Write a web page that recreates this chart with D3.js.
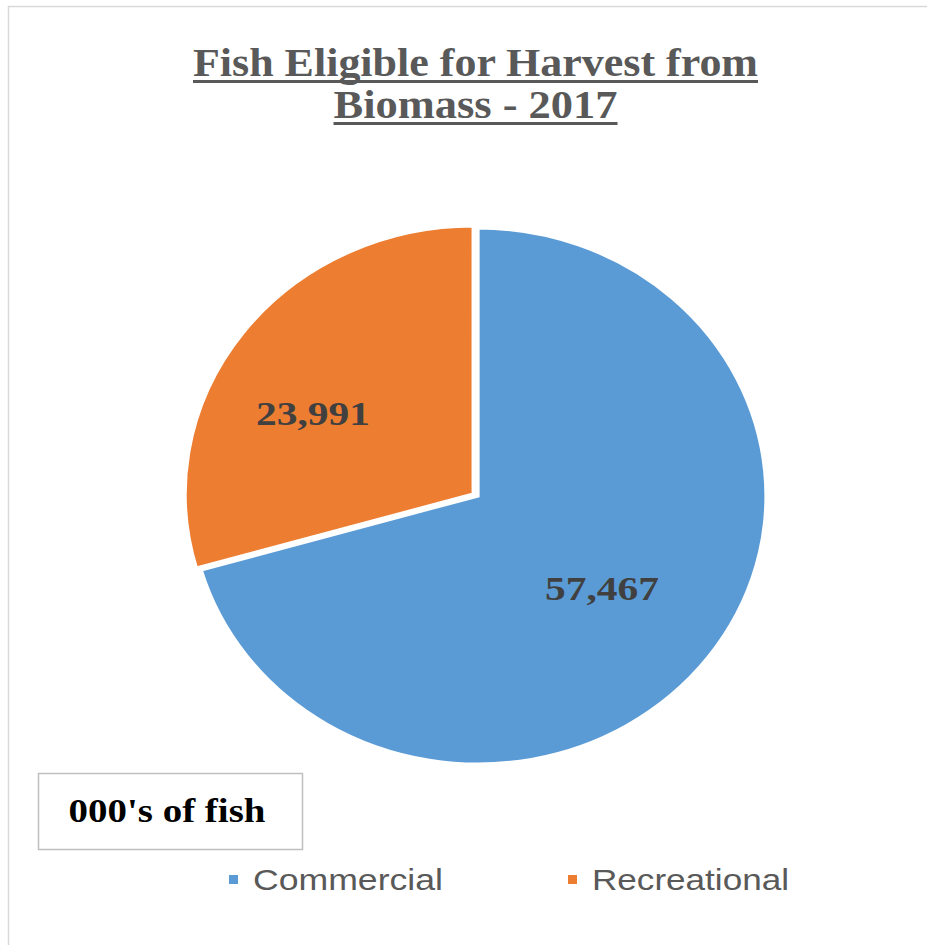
<!DOCTYPE html>
<html><head><meta charset="utf-8">
<script src="https://cdn.jsdelivr.net/npm/d3@7"></script>
<style>body{margin:0;background:#fff}svg{display:block}</style>
</head><body>
<script>
const categories = ["Commercial", "Recreational"];
const values = [57467, 23991];
const colors = ["#5b9bd5", "#ed7d31"];
const titleLines = ["Fish Eligible for Harvest from", "Biomass - 2017"];
const unitNote = "000's of fish";

const W = 927, H = 945;
const svg = d3.select("body").append("svg").attr("width", W).attr("height", H);

svg.append("rect").attr("x", 8.5).attr("y", 6.5).attr("width", 960).attr("height", 960)
  .attr("fill", "#fff").attr("stroke", "#d9d9d9").attr("stroke-width", 1.5);

// Title
const titleY = [76, 118];
const titleW = [565, 284];
titleLines.forEach((t, i) => {
  svg.append("text").attr("x", 475.5).attr("y", titleY[i]).attr("text-anchor", "middle")
    .attr("font-family", "Liberation Serif, serif").attr("font-weight", "bold")
    .attr("font-size", 40).attr("fill", "#595959")
    .attr("textLength", titleW[i]).attr("lengthAdjust", "spacingAndGlyphs").text(t);
  svg.append("rect").attr("x", 475.5 - titleW[i] / 2).attr("y", titleY[i] + 4)
    .attr("width", titleW[i]).attr("height", 3).attr("fill", "#595959");
});

// Pie
const cx = 478, cy = 496, ry = 268, rx = 288;
const pie = d3.pie().sort(null).value(d => d)(values);
const arc = d3.arc().innerRadius(0).outerRadius(ry);
const g = svg.append("g").attr("transform", `translate(${cx},${cy}) scale(${rx / ry},1)`);
const offsets = [[0, 0], [-4.5, -2]];
g.selectAll("path").data(pie).join("path")
  .attr("d", arc)
  .attr("transform", (d, i) => `translate(${offsets[i][0]},${offsets[i][1]})`)
  .attr("fill", (d, i) => colors[i])
  .attr("stroke", "#fff").attr("stroke-width", 3).attr("stroke-linejoin", "miter");

// Data labels
const fmt = d3.format(",");
const labelPos = [[602, 600], [313, 425]];
pie.forEach((d, i) => {
  svg.append("text").attr("x", labelPos[i][0]).attr("y", labelPos[i][1])
    .attr("text-anchor", "middle")
    .attr("font-family", "Liberation Serif, serif").attr("font-weight", "bold")
    .attr("font-size", 33).attr("fill", "#404040")
    .attr("textLength", 114).attr("lengthAdjust", "spacingAndGlyphs")
    .text(fmt(d.data));
});

// Unit box
svg.append("rect").attr("x", 38.5).attr("y", 773.5).attr("width", 264).attr("height", 76)
  .attr("fill", "#fff").attr("stroke", "#bfbfbf").attr("stroke-width", 1.5);
svg.append("text").attr("x", 167).attr("y", 822).attr("text-anchor", "middle")
  .attr("font-family", "Liberation Serif, serif").attr("font-weight", "bold")
  .attr("font-size", 34).attr("fill", "#000")
  .attr("textLength", 197).attr("lengthAdjust", "spacingAndGlyphs").text(unitNote);

// Legend
const legX = [229, 568];
const legW = [190, 197];
categories.forEach((c, i) => {
  svg.append("rect").attr("x", legX[i]).attr("y", 875).attr("width", 9).attr("height", 9)
    .attr("fill", colors[i]);
  svg.append("text").attr("x", legX[i] + 24).attr("y", 890)
    .attr("font-family", "Liberation Sans, sans-serif").attr("font-size", 30).attr("fill", "#595959")
    .attr("textLength", legW[i]).attr("lengthAdjust", "spacingAndGlyphs").text(c);
});
</script>
</body></html>
